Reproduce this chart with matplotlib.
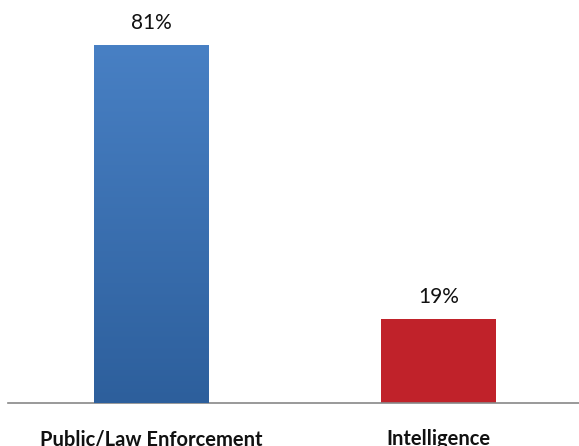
import matplotlib
matplotlib.use("Agg")
from matplotlib import pyplot as plt
import numpy as np
from matplotlib.colors import LinearSegmentedColormap

categories = ["Public/Law Enforcement", "Intelligence"]
values = [81, 19]
labels = ["81%", "19%"]

plt.rcParams['font.family'] = ['Lato', 'DejaVu Sans']

fig = plt.figure(figsize=(5.79, 4.46), dpi=100)
ax = fig.add_axes([8 / 579, 43 / 446, 574 / 579, 403 / 446])

x = np.arange(len(categories))
width = 0.4
bars = ax.bar(x, values, width=width, color=["#3a6eb0", "#c0222a"], zorder=2)

# blue bar gets a vertical gradient like the original
blue_cmap = LinearSegmentedColormap.from_list("blue", ["#2d5f9c", "#4880c4"])
b = bars[0]
grad = np.linspace(0, 1, 256).reshape(-1, 1)
ax.imshow(grad, cmap=blue_cmap, aspect="auto", origin="lower",
          extent=[b.get_x(), b.get_x() + b.get_width(), 0, b.get_height()], zorder=3)

for xi, v, lab in zip(x, values, labels):
    ax.text(xi, v + 5.0, lab, ha="center", va="center", fontsize=15, color="#111111")

ax.set_xlim(-0.5, 1.5)
ax.set_ylim(0, 91.2)
ax.set_xticks(x)
ax.set_xticklabels(categories, fontsize=14.5, fontweight="bold", color="#111111")
ax.tick_params(axis="x", length=0, pad=19)
ax.set_yticks([])
for s in ["top", "right", "left"]:
    ax.spines[s].set_visible(False)
ax.spines["bottom"].set_color("#888888")
ax.spines["bottom"].set_linewidth(1.2)

fig.savefig("out.png", dpi=100)
